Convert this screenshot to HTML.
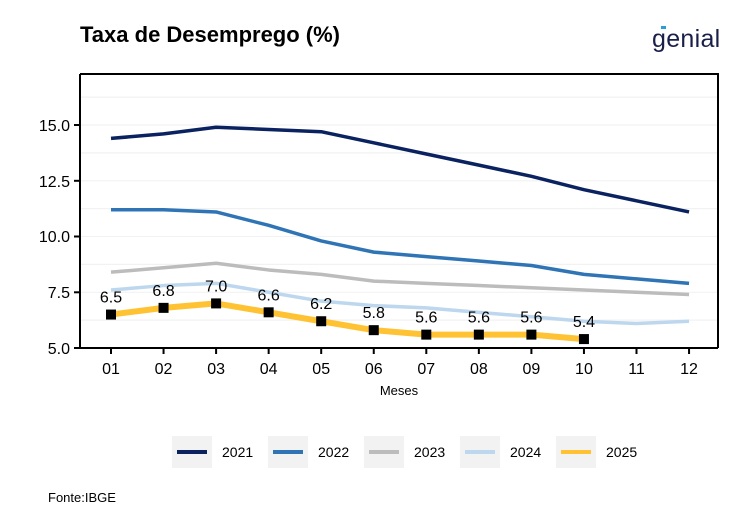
<!DOCTYPE html>
<html><head><meta charset="utf-8"><style>body{margin:0;background:#fff}svg{display:block}</style></head><body>
<svg width="744" height="531" xmlns="http://www.w3.org/2000/svg" font-family="Liberation Sans, Arial, sans-serif">
<rect width="744" height="531" fill="#fff"/>
<text x="80" y="42" font-size="22" font-weight="bold" fill="#000">Taxa de Desemprego (%)</text>
<text x="652" y="47" font-size="25" fill="#1a1f4a" letter-spacing="0.3">genial</text>
<rect x="661" y="26" width="5" height="3" fill="#2a9fd6"/>
<g stroke="#f2f2f2" stroke-width="1.2">
<line x1="80" x2="718" y1="292.3" y2="292.3"/><line x1="80" x2="718" y1="236.5" y2="236.5"/><line x1="80" x2="718" y1="180.8" y2="180.8"/><line x1="80" x2="718" y1="125" y2="125"/>
<line x1="80" x2="718" y1="320.1" y2="320.1"/><line x1="80" x2="718" y1="264.4" y2="264.4"/><line x1="80" x2="718" y1="208.6" y2="208.6"/><line x1="80" x2="718" y1="152.9" y2="152.9"/><line x1="80" x2="718" y1="97.1" y2="97.1"/>
</g>
<path d="M80 74 H718 V348 M80 74 V348 H718" fill="none" stroke="#000" stroke-width="2"/>
<g font-size="16" fill="#000" text-anchor="end">
<text x="70" y="354">5.0</text><text x="70" y="298">7.5</text><text x="70" y="242">10.0</text><text x="70" y="187">12.5</text><text x="70" y="131">15.0</text>
</g>
<g stroke="#000" stroke-width="2">
<line x1="74" x2="80" y1="348" y2="348"/><line x1="74" x2="80" y1="292.3" y2="292.3"/><line x1="74" x2="80" y1="236.5" y2="236.5"/><line x1="74" x2="80" y1="180.8" y2="180.8"/><line x1="74" x2="80" y1="125" y2="125"/>
</g>
<g id="xt" font-size="16" text-anchor="middle"></g>
<g fill="none" stroke-linejoin="round">
<polyline id="p21" stroke="#0a2260" stroke-width="3.5"/>
<polyline id="p22" stroke="#2f74b5" stroke-width="3.5"/>
<polyline id="p23" stroke="#bcbcbc" stroke-width="3.5"/>
<polyline id="p24" stroke="#bdd7ee" stroke-width="3.5"/>
<polyline id="p25" stroke="#ffc232" stroke-width="6"/>
</g>
<g id="mk"></g>
<text x="399" y="395" font-size="13" text-anchor="middle">Meses</text>
<g font-size="14">
<rect x="172" y="436" width="40" height="32" fill="#f2f2f2"/><line x1="177" x2="207" y1="452" y2="452" stroke="#0a2260" stroke-width="4"/><text x="222" y="457">2021</text>
<rect x="268" y="436" width="40" height="32" fill="#f2f2f2"/><line x1="273" x2="303" y1="452" y2="452" stroke="#2f74b5" stroke-width="4"/><text x="318" y="457">2022</text>
<rect x="364" y="436" width="40" height="32" fill="#f2f2f2"/><line x1="369" x2="399" y1="452" y2="452" stroke="#bcbcbc" stroke-width="4"/><text x="414" y="457">2023</text>
<rect x="460" y="436" width="40" height="32" fill="#f2f2f2"/><line x1="465" x2="495" y1="452" y2="452" stroke="#bdd7ee" stroke-width="4"/><text x="510" y="457">2024</text>
<rect x="556" y="436" width="40" height="32" fill="#f2f2f2"/><line x1="561" x2="591" y1="452" y2="452" stroke="#ffc232" stroke-width="4"/><text x="606" y="457">2025</text>
</g>
<text x="48" y="502" font-size="13">Fonte:IBGE</text>
<script>
var X=i=>111+i*52.55,Y=v=>348-(v-5)*22.3;
var d={p21:[14.4,14.6,14.9,14.8,14.7,14.2,13.7,13.2,12.7,12.1,11.6,11.1],p22:[11.2,11.2,11.1,10.5,9.8,9.3,9.1,8.9,8.7,8.3,8.1,7.9],p23:[8.4,8.6,8.8,8.5,8.3,8.0,7.9,7.8,7.7,7.6,7.5,7.4],p24:[7.6,7.8,7.9,7.5,7.1,6.9,6.8,6.6,6.4,6.2,6.1,6.2],p25:[6.5,6.8,7.0,6.6,6.2,5.8,5.6,5.6,5.6,5.4]};
for(var k in d)document.getElementById(k).setAttribute('points',d[k].map((v,i)=>X(i)+','+Y(v)).join(' '));
var ns='http://www.w3.org/2000/svg',xt=document.getElementById('xt'),mk=document.getElementById('mk');
for(var i=0;i<12;i++){var t=document.createElementNS(ns,'text');t.setAttribute('x',X(i));t.setAttribute('y',374);t.textContent=(i<9?'0':'')+(i+1);xt.appendChild(t);
var l=document.createElementNS(ns,'line');l.setAttribute('x1',X(i));l.setAttribute('x2',X(i));l.setAttribute('y1',348);l.setAttribute('y2',354);l.setAttribute('stroke','#000');l.setAttribute('stroke-width','2');xt.appendChild(l);}
d.p25.forEach((v,i)=>{var r=document.createElementNS(ns,'rect');r.setAttribute('x',X(i)-5);r.setAttribute('y',Y(v)-5);r.setAttribute('width',10);r.setAttribute('height',10);mk.appendChild(r);
var t=document.createElementNS(ns,'text');t.setAttribute('x',X(i));t.setAttribute('y',Y(v)-12);t.setAttribute('text-anchor','middle');t.setAttribute('font-size','16');t.textContent=v.toFixed(1);mk.appendChild(t);});
</script>
</svg>
</body></html>
